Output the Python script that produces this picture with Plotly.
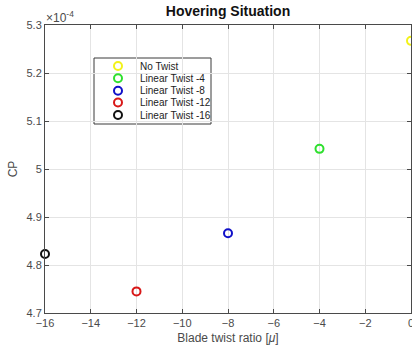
import plotly.graph_objects as go

# Hovering power coefficient for different blade twist settings
series_names = ["No Twist", "Linear Twist -4", "Linear Twist -8", "Linear Twist -12", "Linear Twist -16"]
twist = [0, -4, -8, -12, -16]
cp = [5.267e-4, 5.042e-4, 4.866e-4, 4.745e-4, 4.823e-4]
colors = ["#f2f21a", "#2ee02e", "#1010c8", "#d81818", "#111111"]

x_ticks = [-16, -14, -12, -10, -8, -6, -4, -2, 0]
y_ticks = [4.7e-4, 4.8e-4, 4.9e-4, 5.0e-4, 5.1e-4, 5.2e-4, 5.3e-4]
y_tick_text = ["4.7", "4.8", "4.9", "5", "5.1", "5.2", "5.3"]

FONT = "Liberation Sans, Arial, sans-serif"
AX = "#4a4a4a"

fig = go.Figure()

for name, x, y, c in zip(series_names, twist, cp, colors):
    fig.add_trace(go.Scatter(
        x=[x], y=[y], mode="markers", name=name, showlegend=False, cliponaxis=False,
        marker=dict(symbol="circle-open", size=8, color=c, line=dict(width=2, color=c)),
    ))

# Legend box drawn on an overlay axis measured in plot-area pixels
leg_rows = [66, 78.3, 90.7, 102.5, 115]
leg_x0, leg_x1, leg_y0, leg_y1 = 94 - 45, 211 - 45, 58 - 25, 124 - 25
fig.add_trace(go.Scatter(
    x=[118 - 45] * len(series_names), y=[r - 25 for r in leg_rows],
    xaxis="x2", yaxis="y2", mode="markers", showlegend=False, hoverinfo="skip",
    marker=dict(symbol="circle-open", size=8, color=colors, line=dict(width=2, color=colors)),
    cliponaxis=False,
))
fig.add_shape(type="rect", xref="x2", yref="y2", x0=leg_x0, x1=leg_x1, y0=leg_y0, y1=leg_y1,
              line=dict(color="#3a3a3a", width=1), fillcolor="white", layer="below")
for name, r in zip(series_names, leg_rows):
    fig.add_annotation(xref="x2", yref="y2", x=138 - 45, y=r - 25, text=name, showarrow=False,
                       xanchor="left", yanchor="middle", font=dict(family=FONT, size=10, color="#222222"))

fig.add_annotation(xref="paper", yref="paper", x=0, y=1, xanchor="left", yanchor="bottom",
                   text="×10<sup>-4</sup>", showarrow=False, xshift=-1, yshift=-2,
                   font=dict(family=FONT, size=12, color=AX))

fig.update_layout(
    width=412, height=354,
    margin=dict(l=45, r=1, t=25, b=41, autoexpand=False),
    paper_bgcolor="white", plot_bgcolor="white",
    title=dict(text="<b>Hovering Situation</b>", x=(45 + 411) / 2 / 412, xanchor="center",
               y=1 - 11 / 354, yanchor="middle", font=dict(family=FONT, size=14, color="#111111")),
    xaxis=dict(range=[-16, 0], tickvals=x_ticks, ticks="inside", ticklen=4, tickcolor=AX,
               showline=True, linecolor=AX, linewidth=1, mirror="ticks", automargin=False,
               showgrid=True, gridcolor="#e4e4e4", zeroline=False, ticklabeloverflow="allow",
               tickfont=dict(family=FONT, size=11, color=AX),
               title=dict(text="Blade twist ratio [<i>μ</i>]", standoff=5,
                          font=dict(family=FONT, size=12, color=AX))),
    yaxis=dict(range=[4.7e-4, 5.3e-4], tickvals=y_ticks, ticktext=y_tick_text,
               ticks="inside", ticklen=4, tickcolor=AX, automargin=False,
               showline=True, linecolor=AX, linewidth=1, mirror="ticks",
               showgrid=True, gridcolor="#e4e4e4", zeroline=False, ticklabeloverflow="allow",
               tickfont=dict(family=FONT, size=11, color=AX),
               title=dict(text="CP", standoff=6, font=dict(family=FONT, size=12, color=AX))),
    xaxis2=dict(overlaying="x", range=[0, 366], visible=False, fixedrange=True),
    yaxis2=dict(overlaying="y", range=[288, 0], visible=False, fixedrange=True),
)

fig.write_html("out.html")
